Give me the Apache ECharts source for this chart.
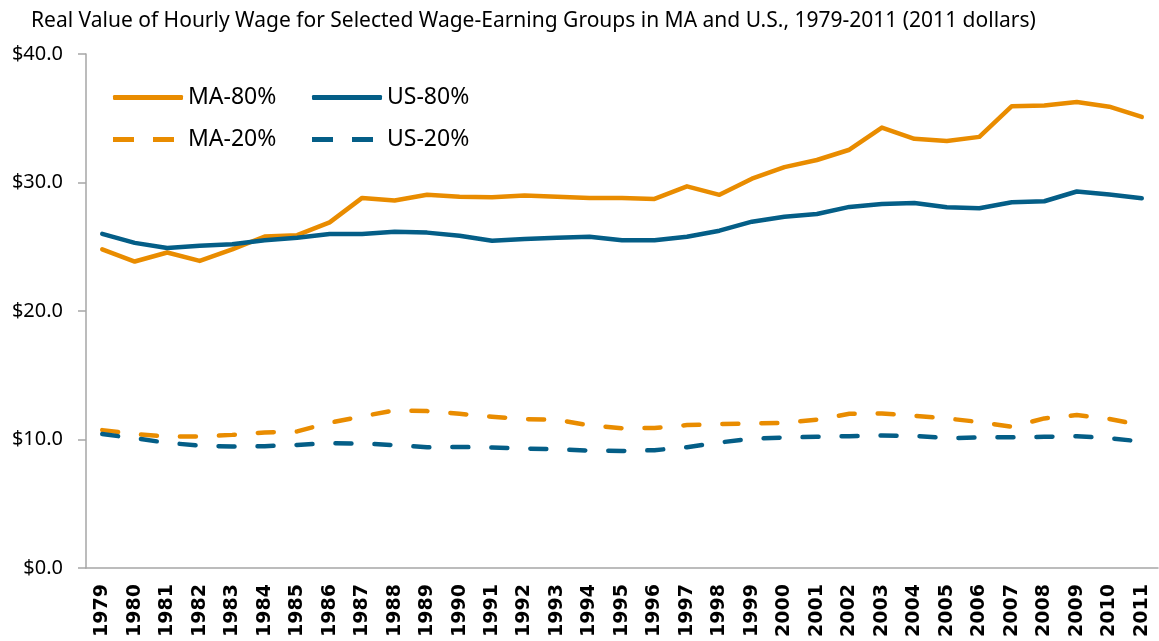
<!DOCTYPE html>
<html lang="en">
<head>
    <meta charset="utf-8">
    <title>Real Value of Hourly Wage</title>
    <script src="https://cdn.jsdelivr.net/npm/echarts@6/dist/echarts.min.js"></script>
    <style>
        html, body { margin: 0; padding: 0; background: #fff; }
        #box { width: 1159px; height: 641px; }
    </style>
</head>
<body>
    <div id="box"></div>
    <script>
        // data
        var years = ['1979', '1980', '1981', '1982', '1983', '1984', '1985', '1986', '1987', '1988', '1989',
            '1990', '1991', '1992', '1993', '1994', '1995', '1996', '1997', '1998', '1999', '2000',
            '2001', '2002', '2003', '2004', '2005', '2006', '2007', '2008', '2009', '2010', '2011'];
        var ma80 = [24.8, 23.85, 24.55, 23.9, 24.8, 25.8, 25.9, 26.9, 28.8, 28.6, 29.04, 28.9,
            28.86, 28.98, 28.9, 28.8, 28.8, 28.72, 29.7, 29.04, 30.3, 31.2,
            31.75, 32.55, 34.27, 33.4, 33.23, 33.55, 35.94, 36.0, 36.27, 35.9, 35.1];
        var us80 = [26.0, 25.3, 24.9, 25.08, 25.2, 25.5, 25.7, 26.0, 26.0, 26.17, 26.1, 25.86,
            25.47, 25.6, 25.7, 25.78, 25.5, 25.5, 25.78, 26.25, 26.95, 27.34,
            27.55, 28.1, 28.33, 28.4, 28.07, 28.0, 28.46, 28.54, 29.3, 29.06, 28.77];
        var ma20 = [10.73, 10.42, 10.23, 10.23, 10.36, 10.55, 10.63, 11.3, 11.8, 12.27, 12.21, 12.0,
            11.77, 11.59, 11.54, 11.1, 10.88, 10.9, 11.12, 11.2, 11.25, 11.3,
            11.54, 12.0, 12.03, 11.85, 11.64, 11.36, 10.99, 11.64, 11.9, 11.6, 11.1];
        var us20 = [10.42, 10.1, 9.74, 9.53, 9.45, 9.48, 9.58, 9.71, 9.69, 9.56, 9.4, 9.42,
            9.38, 9.3, 9.24, 9.14, 9.11, 9.17, 9.4, 9.77, 10.05, 10.16,
            10.21, 10.26, 10.31, 10.29, 10.1, 10.16, 10.18, 10.21, 10.26, 10.1, 9.84];
        var yTicks = [0, 10, 20, 30, 40];

        var orange = '#E98C00';
        var blue = '#045E87';
        var axisGray = '#A6A6A6';

        // legend icons: a solid bar and two dashes
        var solidIcon = 'roundRect';
        var dashIcon = 'path://M0,0H21V5H0Z M40,0H61V5H40Z';

        function mkLine(name, data, color, dashed) {
            return {
                name: name,
                type: 'line',
                data: data,
                symbol: 'none',
                smooth: false,
                lineStyle: {
                    color: color,
                    width: 4.5,
                    type: dashed ? [16, 23] : 'solid',
                    cap: 'round',
                    join: 'round'
                },
                itemStyle: { color: color }
            };
        }

        function mkLegend(name, left, top, dashed) {
            return {
                data: [{ name: name, icon: dashed ? dashIcon : solidIcon }],
                left: left,
                top: top,
                padding: 0,
                itemWidth: dashed ? 61 : 70,
                itemHeight: 5,
                textStyle: {
                    fontFamily: 'Noto Sans',
                    fontSize: 23,
                    color: '#000',
                    padding: [0, 0, 0, dashed ? 9 : 0]
                }
            };
        }

        var myChart = echarts.init(document.getElementById('box'));
        var option = {
            animation: false,
            backgroundColor: '#fff',
            title: {
                text: 'Real Value of Hourly Wage for Selected Wage-Earning Groups in MA and U.S., 1979-2011 (2011 dollars)',
                left: 26,
                top: 6,
                textStyle: { fontFamily: 'Noto Sans', fontSize: 21, fontWeight: 'normal', color: '#000' }
            },
            legend: [
                mkLegend('MA-80%', 113, 86, false),
                mkLegend('US-80%', 312, 86, false),
                mkLegend('MA-20%', 113, 128, true),
                mkLegend('US-20%', 312, 128, true)
            ],
            grid: {
                left: 86,
                right: 1,
                top: 54,
                bottom: 73,
                containLabel: false,
                outerBoundsMode: 'none'
            },
            xAxis: {
                type: 'category',
                data: years,
                boundaryGap: true,
                axisLine: { lineStyle: { color: axisGray, width: 1.5 } },
                axisTick: { alignWithLabel: false, length: 7, lineStyle: { color: axisGray, width: 1.5 } },
                axisLabel: {
                    rotate: 90,
                    interval: 0,
                    margin: 16,
                    fontFamily: 'DejaVu Sans',
                    fontWeight: 'bold',
                    fontSize: 19,
                    color: '#000'
                },
                splitLine: { show: false }
            },
            yAxis: {
                type: 'value',
                min: yTicks[0],
                max: yTicks[yTicks.length - 1],
                interval: 10,
                axisLine: { show: true, lineStyle: { color: axisGray, width: 1.5 } },
                axisTick: { show: true, length: 8, lineStyle: { color: axisGray, width: 1.5 } },
                axisLabel: {
                    margin: 23,
                    fontFamily: 'Noto Sans',
                    fontSize: 20,
                    color: '#000',
                    formatter: function (v) { return '$' + v.toFixed(1); }
                },
                splitLine: { show: false }
            },
            series: [
                mkLine('MA-80%', ma80, orange, false),
                mkLine('US-80%', us80, blue, false),
                mkLine('MA-20%', ma20, orange, true),
                mkLine('US-20%', us20, blue, true)
            ]
        };
        myChart.setOption(option, true);
    </script>
</body>
</html>
